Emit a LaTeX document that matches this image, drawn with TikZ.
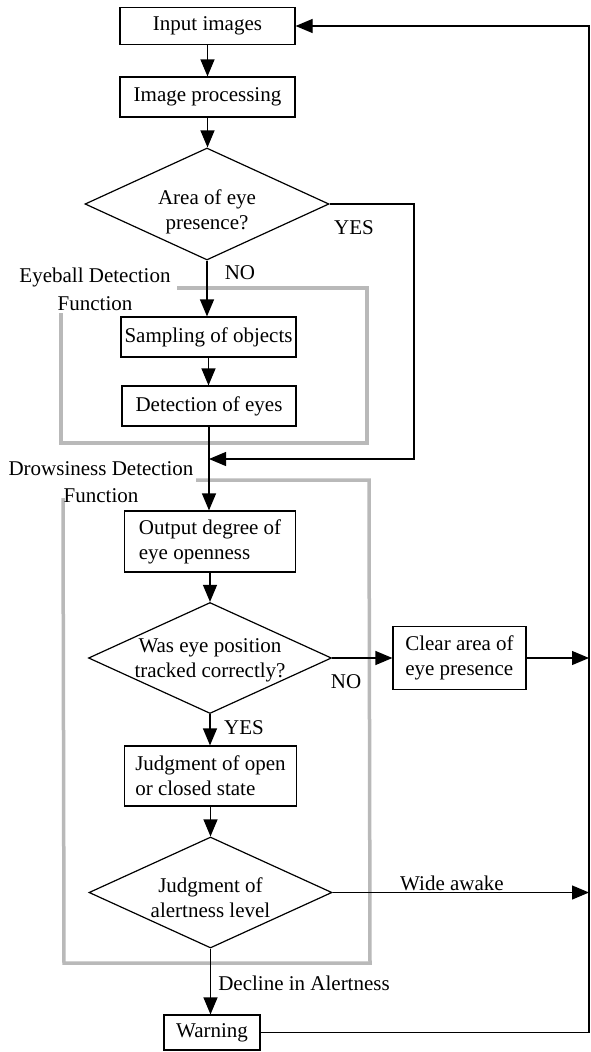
\documentclass[tikz,border=0pt]{standalone}
\usepackage{fontspec}
\setmainfont{Liberation Serif}
\usetikzlibrary{arrows.meta,shapes.geometric}
\begin{document}
\begin{tikzpicture}[x=1pt,y=-1pt,
  font=\fontsize{21}{25}\selectfont,
  box/.style={draw, line width=1.2pt, rectangle, inner sep=0pt},
  dec/.style={draw, line width=1.2pt, diamond, inner sep=0pt, minimum width=243pt, minimum height=111pt},
  arr/.style={line width=1.2pt, -{Triangle[length=17pt,width=14pt]}},
  frm/.style={draw=gray!55, line width=3.5pt},
  lbl/.style={inner sep=0pt}
]
\useasboundingbox (0,0) rectangle (590,1052);

% process column
\node[box, minimum width=175pt, minimum height=37pt] (in1) at (207.5,26) {Input images};
\node[box, minimum width=175pt, minimum height=40pt] (proc) at (207.5,97) {Image processing};
\node[dec, minimum width=244pt, minimum height=112pt,
      label={[name=dec1t, align=center, yshift=-8pt]center:Area of eye\\presence?}] (dec1) at (207,204) {};
\node[box, minimum width=175pt, minimum height=40pt] (samp) at (208.5,337) {Sampling of objects};
\node[box, minimum width=174pt, minimum height=40pt] (deteyes) at (209,406) {Detection of eyes};
\node[box, minimum width=171pt, minimum height=61pt, align=left] (out) at (210,541.5) {Output degree of\\eye openness};
\node[dec, label={[name=dec2t, align=center, yshift=-2pt]center:Was eye position\\tracked correctly?}] (dec2) at (210,658) {};
\node[box, minimum width=133pt, minimum height=63pt, align=left] (clear) at (459.5,658) {Clear area of\\eye presence};
\node[box, minimum width=172pt, minimum height=60pt, align=left] (judg) at (210.5,776) {Judgment of open\\or closed state};
\node[dec, label={[name=dec3t, align=center, yshift=-5pt]center:Judgment of\\alertness level}] (dec3) at (210.5,892.5) {};
\node[box, minimum width=96pt, minimum height=35pt] (warn) at (212,1032.5) {Warning};

% function frames
\draw[frm] (177,288) -- (367,288) -- (367,443) -- (61,443) -- (61,313);
\node[lbl, align=center] (fn1) at (95,289) {Eyeball Detection\\[3pt]Function};
\draw[frm] (196,480) -- (369,480) -- (370,963) -- (64,963) -- (63,498);
\node[lbl, align=center] (fn2) at (101,482) {Drowsiness Detection\\[2pt]Function};

% coordinates
\coordinate (yr) at (414,459);
\coordinate (m) at (209,459);
\coordinate (r1) at (589,658);
\coordinate (r2) at (589,892.5);
\coordinate (rb) at (589,1032.5);
\coordinate (rt) at (589,26);

% connectors
\draw[arr] (in1.south) -- (in1.south |- proc.north);
\draw[arr] (proc.south) -- (proc.south |- dec1.north);
\draw[arr] (dec1.south) -- (dec1.south |- samp.north);
\draw[arr] (samp.south) -- (samp.south |- deteyes.north);
\draw[arr] (deteyes.south) -- (deteyes.south |- out.north);
\draw[arr] (dec1.east) -| (yr) -- (m);
\draw[arr] (out.south) -- (out.south |- dec2.north);
\draw[arr] (dec2.east) -- (clear.west);
\draw[arr] (clear.east) -- (r1);
\draw[arr] (dec2.south) -- (dec2.south |- judg.north);
\draw[arr] (judg.south) -- (judg.south |- dec3.north);
\draw[arr] (dec3.east) -- (r2);
\draw[arr] (dec3.south) -- (dec3.south |- warn.north);
\draw[arr] (warn.east) -- (rb) -- (rt) -- (in1.east);

% branch labels
\node[lbl] (yes1) at (354,228) {YES};
\node[lbl] (no1) at (240,273) {NO};
\node[lbl] (no2) at (346,682) {NO};
\node[lbl] (yes2) at (244,728) {YES};
\node[lbl] (wide) at (452,883) {Wide awake};
\node[lbl] (decl) at (304,983) {Decline in Alertness};
\end{tikzpicture}
\end{document}
